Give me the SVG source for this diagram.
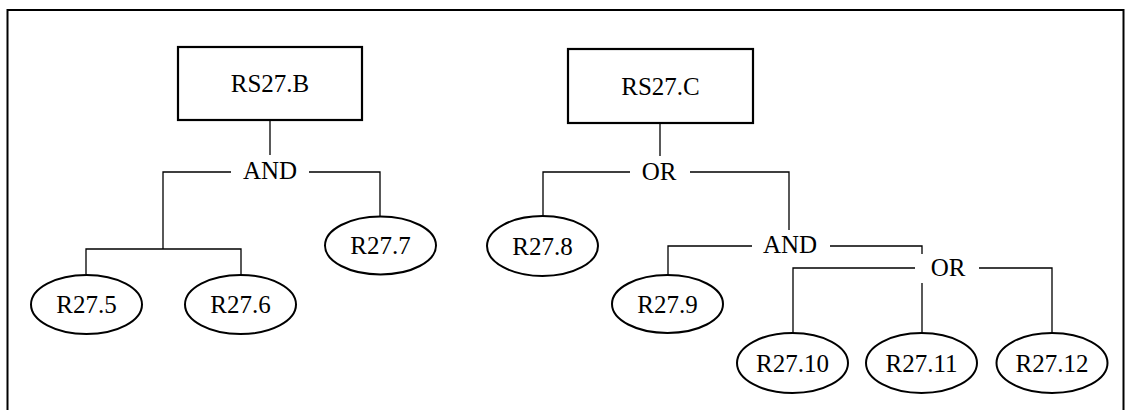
<svg xmlns="http://www.w3.org/2000/svg" width="1127" height="410" viewBox="0 0 1127 410" font-family="'Liberation Serif', 'Times New Roman', Times, serif" font-size="25">
<style>
text{font-family:'Liberation Serif','Times New Roman',Times,serif;font-size:25px;fill:#000;text-anchor:middle}
.box{fill:#fff;stroke:#000;stroke-width:2.2}
.ell{fill:#fff;stroke:#000;stroke-width:2}
.c{fill:none;stroke:#000;stroke-width:1.3}
</style>
<rect x="0" y="0" width="1127" height="410" fill="#fff"/>
<rect x="7.5" y="10" width="1116" height="420" fill="none" stroke="#000" stroke-width="2"/>
<g id="connectors">
<path class="c" d="M270 120V155"/>
<path class="c" d="M231 172H163V249M86 274V249H241V274"/>
<path class="c" d="M309 172H380V216"/>
<path class="c" d="M660 123V156"/>
<path class="c" d="M630 172H543V216"/>
<path class="c" d="M690 172H789V230"/>
<path class="c" d="M752 246H668V275"/>
<path class="c" d="M830 246H922V254"/>
<path class="c" d="M915 268H793V333"/>
<path class="c" d="M922 283V333"/>
<path class="c" d="M979 268H1052V333"/>
</g>
<g id="RS27B"><rect class="box" x="178" y="47" width="184" height="73"/><text x="270" y="92">RS27.B</text></g>
<g id="AND1"><text x="270" y="179">AND</text></g>
<g id="R27_5"><ellipse class="ell" cx="86.5" cy="304.5" rx="55.5" ry="29.5"/><text x="86.5" y="313">R27.5</text></g>
<g id="R27_6"><ellipse class="ell" cx="240.5" cy="304.5" rx="55.5" ry="29.5"/><text x="240.5" y="313">R27.6</text></g>
<g id="R27_7"><ellipse class="ell" cx="380.5" cy="245.5" rx="55.5" ry="29"/><text x="380.5" y="254">R27.7</text></g>
<g id="RS27C"><rect class="box" x="568" y="49" width="185" height="74"/><text x="660.5" y="95">RS27.C</text></g>
<g id="OR1"><text x="659" y="180">OR</text></g>
<g id="R27_8"><ellipse class="ell" cx="542.5" cy="246" rx="55.5" ry="30"/><text x="542.5" y="255">R27.8</text></g>
<g id="AND2"><text x="790" y="253">AND</text></g>
<g id="R27_9"><ellipse class="ell" cx="667.5" cy="304" rx="55.5" ry="29"/><text x="667.5" y="313">R27.9</text></g>
<g id="OR2"><text x="948" y="276">OR</text></g>
<g id="R27_10"><ellipse class="ell" cx="792.5" cy="363" rx="55.5" ry="30"/><text x="792.5" y="372">R27.10</text></g>
<g id="R27_11"><ellipse class="ell" cx="921.5" cy="363" rx="55.5" ry="30"/><text x="921.5" y="372">R27.11</text></g>
<g id="R27_12"><ellipse class="ell" cx="1052" cy="363" rx="55.5" ry="30"/><text x="1052" y="372">R27.12</text></g>
</svg>
